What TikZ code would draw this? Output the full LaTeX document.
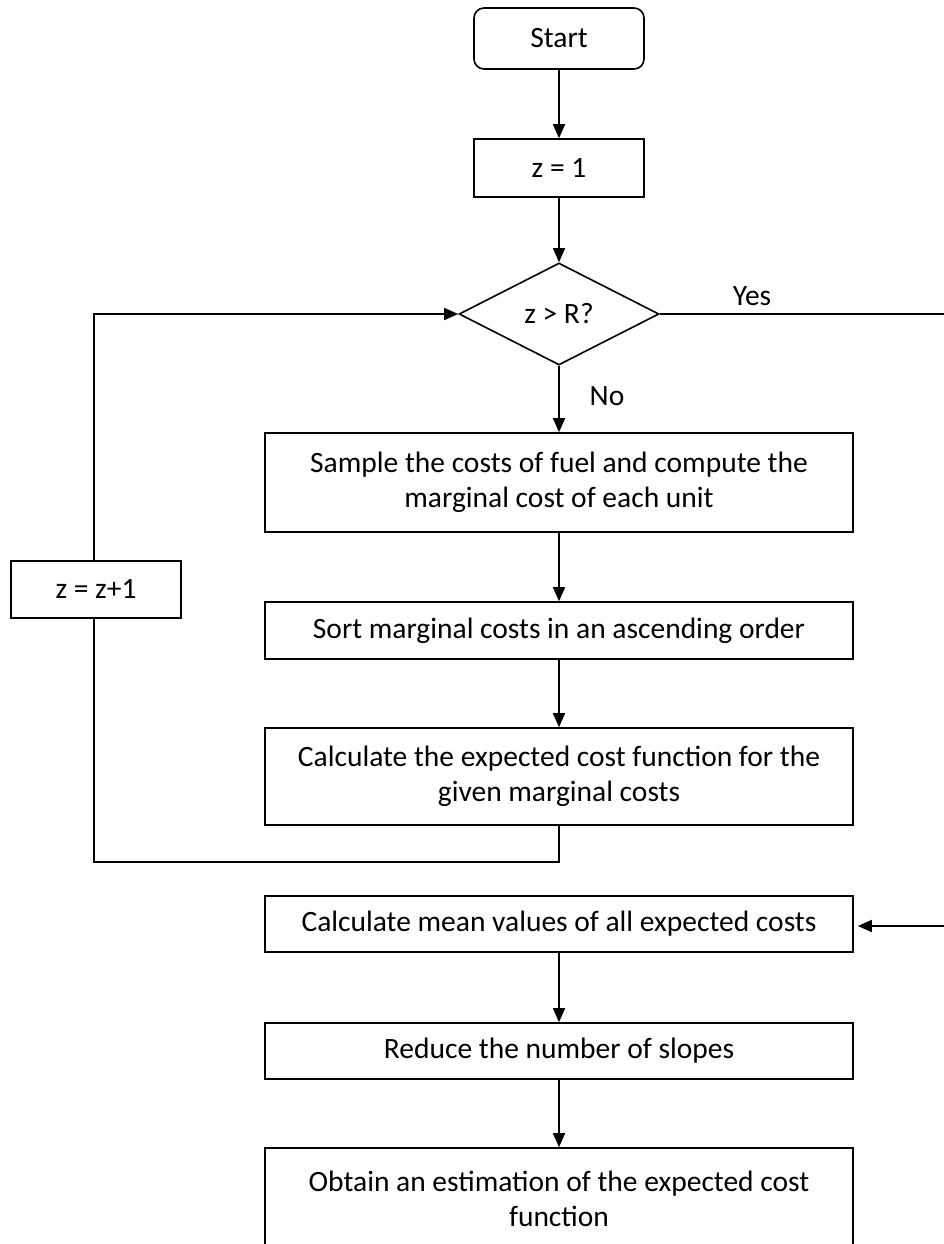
\documentclass[tikz,border=0pt]{standalone}
\usepackage{fontspec}
\setmainfont{Carlito}
\usetikzlibrary{shapes.geometric,arrows.meta}
\begin{document}
\begin{tikzpicture}[x=1pt,y=-1pt,
  every node/.style={font=\fontsize{29.5}{35}\selectfont, text=black},
  procbox/.style={draw, line width=1.6pt, rectangle, inner sep=0pt, align=center},
  termbox/.style={procbox, rounded corners=10pt},
  decbox/.style={draw, line width=1.6pt, diamond, inner sep=0pt, minimum width=200pt, minimum height=102pt},
  flow/.style={line width=1.6pt, -{Triangle[length=14pt,width=12pt]}},
  plain/.style={line width=1.6pt}
]
\useasboundingbox (0,0) rectangle (943,1244);
\node[termbox, minimum width=170pt, minimum height=61pt] (start) at (559,38.5) {Start};
\node[procbox, minimum width=170pt, minimum height=58pt] (z1) at (559,168) {z = 1};
\node[decbox] (dec) at (559,314) {z > R?};
\node[procbox, minimum width=588pt, minimum height=99pt] (b1) at (559,482.5) {Sample the costs of fuel and compute the\\marginal cost of each unit};
\node[procbox, minimum width=588pt, minimum height=57pt] (b2) at (559,630.5) {Sort marginal costs in an ascending order};
\node[procbox, minimum width=588pt, minimum height=97pt] (b3) at (559,776.5) {Calculate the expected cost function for the\\given marginal costs};
\node[procbox, minimum width=170pt, minimum height=57pt] (inc) at (96,589.5) {z = z+1};
\node[procbox, minimum width=588pt, minimum height=56pt] (b4) at (559,924) {Calculate mean values of all expected costs};
\node[procbox, minimum width=588pt, minimum height=106pt] (b6) at (559,1201) {};
\node[procbox, minimum width=588pt, minimum height=56pt] (b5) at (559,1051) {Reduce the number of slopes};
\node[align=center, anchor=north] (b6t) at (559,1167) {Obtain an estimation of the expected cost\\function};
\node (yes) at (752,296) {Yes};
\node (no) at (607,396) {No};
\coordinate (lb) at (94,862);
\coordinate (lt) at (94,314);
\coordinate (rt) at (952,314);
\coordinate (rb) at (952,926);
\draw[flow] (start) -- (z1);
\draw[flow] (z1) -- (dec);
\draw[flow] (dec.south) -- (b1.north -| dec.south);
\draw[flow] (b1) -- (b2);
\draw[flow] (b2) -- (b3);
\draw[plain] (b3.south) |- (lb) -- (inc.south -| lb);
\draw[flow] (inc.north -| lt) -- (lt) -- (dec.west);
\draw[flow, shorten >=4pt] (dec.east) -- (rt) -- (rb) -- (b4.east |- rb);
\draw[flow] (b4) -- (b5);
\draw[flow] (b5) -- (b6);
\end{tikzpicture}
\end{document}
